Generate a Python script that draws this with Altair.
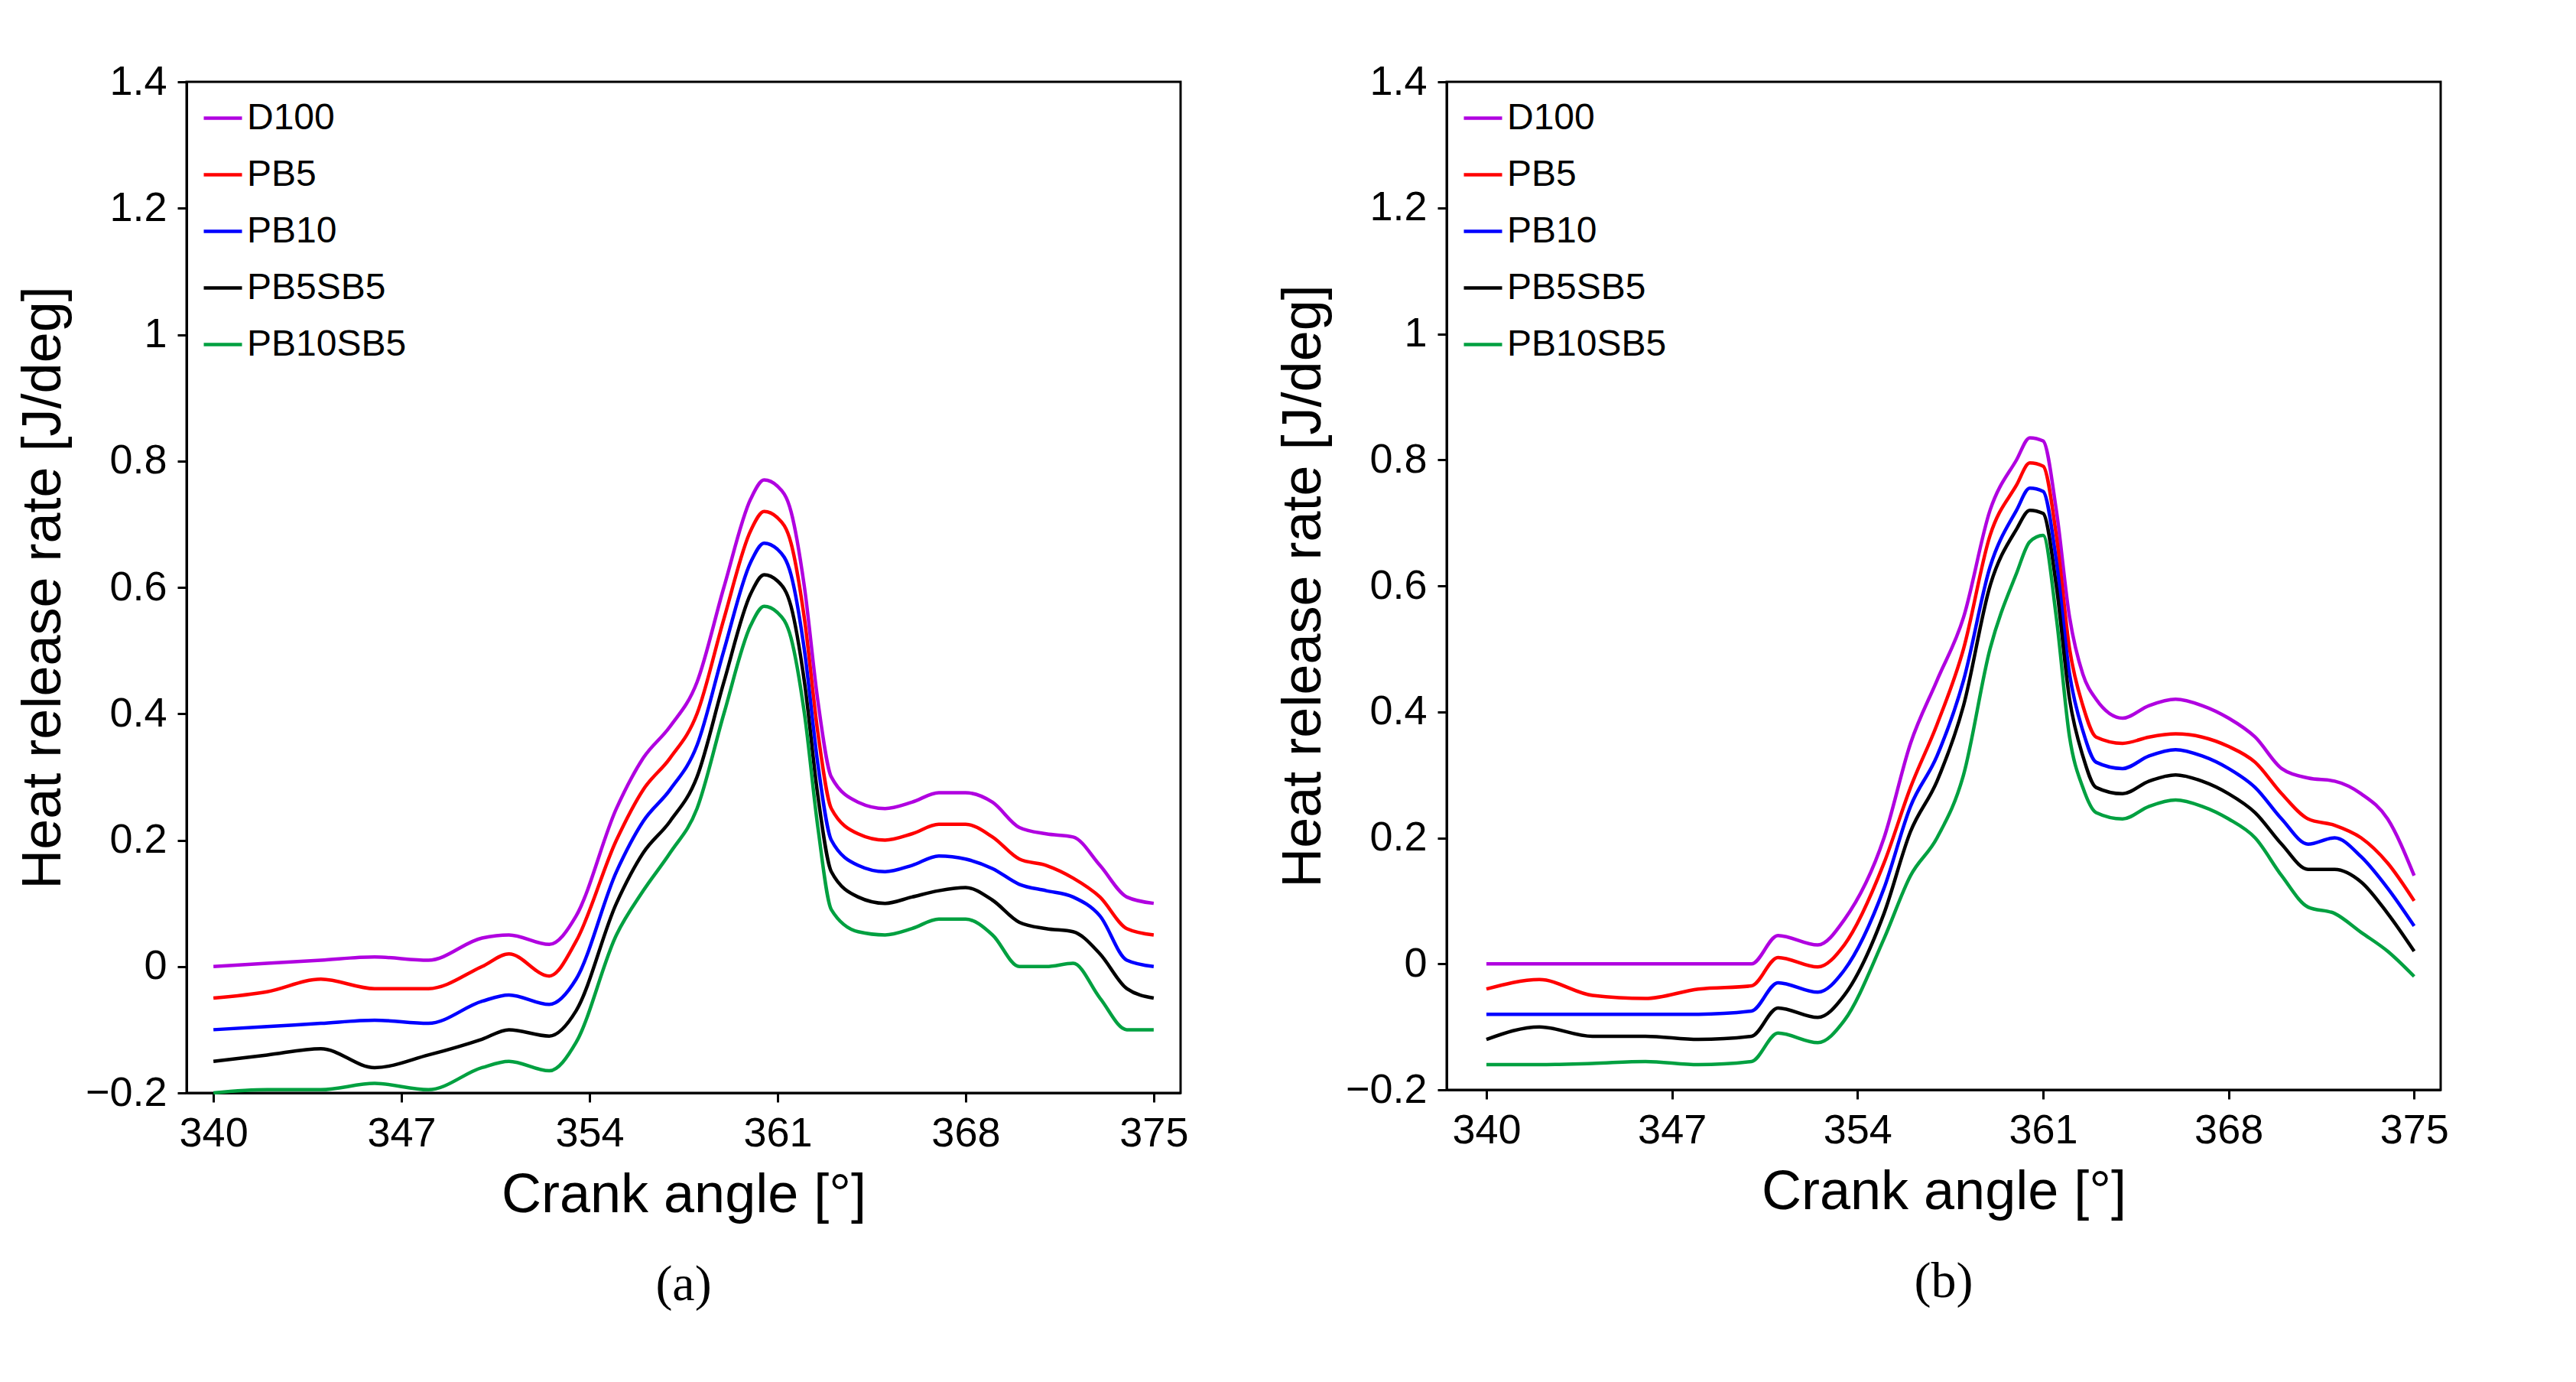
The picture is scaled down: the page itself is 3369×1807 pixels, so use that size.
import pandas as pd
import altair as alt

angle = [340, 342, 344, 346, 348, 350, 351, 352.5, 353.5, 355, 356, 357, 358, 359, 360, 360.5,
         361, 361.5, 362, 362.5, 363, 364, 365, 366, 367, 368, 369, 370, 371, 372, 373, 374, 375]
fuels = ["D100", "PB5", "PB10", "PB5SB5", "PB10SB5"]
colors = ["#b000e0", "#ff0000", "#0000ff", "#000000", "#00a040"]

# panel (a)
a_d100 = [0, 0.005, 0.01, 0.015, 0.01, 0.045, 0.05, 0.035, 0.08, 0.25, 0.33, 0.38, 0.45, 0.6, 0.74, 0.77,
          0.76, 0.72, 0.6, 0.42, 0.3, 0.26, 0.25, 0.26, 0.275, 0.275, 0.26, 0.22, 0.21, 0.205, 0.16, 0.11, 0.1]
a_pb5 = [-0.05, -0.04, -0.02, -0.035, -0.035, 0.0, 0.02, -0.015, 0.04, 0.2, 0.28, 0.33, 0.4, 0.55, 0.69, 0.72,
         0.71, 0.67, 0.55, 0.37, 0.25, 0.21, 0.2, 0.21, 0.225, 0.225, 0.205, 0.17, 0.16, 0.14, 0.11, 0.06, 0.05]
a_pb10 = [-0.1, -0.095, -0.09, -0.085, -0.09, -0.055, -0.045, -0.06, -0.02, 0.15, 0.23, 0.28, 0.35, 0.5, 0.64, 0.67,
          0.66, 0.62, 0.5, 0.32, 0.2, 0.16, 0.15, 0.16, 0.175, 0.17, 0.155, 0.13, 0.12, 0.11, 0.08, 0.01, 0.0]
a_pb5sb5 = [-0.15, -0.14, -0.13, -0.16, -0.14, -0.115, -0.1, -0.11, -0.07, 0.1, 0.18, 0.23, 0.3, 0.45, 0.59, 0.62,
            0.61, 0.57, 0.45, 0.27, 0.15, 0.11, 0.1, 0.11, 0.12, 0.125, 0.105, 0.07, 0.06, 0.055, 0.02, -0.035, -0.05]
a_pb10sb5 = [-0.2, -0.195, -0.195, -0.185, -0.195, -0.16, -0.15, -0.165, -0.12, 0.05, 0.12, 0.18, 0.25, 0.4, 0.54, 0.57,
             0.56, 0.52, 0.4, 0.22, 0.09, 0.055, 0.05, 0.06, 0.075, 0.075, 0.05, 0.0, 0.0, 0.005, -0.05, -0.1, -0.1]

# panel (b)
b_d100 = [0, 0, 0, 0, 0, 0.0, 0.045, 0.03, 0.07, 0.2, 0.35, 0.45, 0.55, 0.72, 0.8, 0.835,
          0.83, 0.72, 0.55, 0.46, 0.42, 0.39, 0.41, 0.42, 0.41, 0.39, 0.36, 0.31, 0.295, 0.29, 0.27, 0.23, 0.14]
b_pb5 = [-0.04, -0.025, -0.05, -0.055, -0.04, -0.035, 0.01, -0.005, 0.03, 0.16, 0.28, 0.38, 0.5, 0.68, 0.76, 0.795,
         0.79, 0.68, 0.5, 0.41, 0.36, 0.35, 0.36, 0.365, 0.36, 0.345, 0.32, 0.27, 0.23, 0.22, 0.2, 0.16, 0.1]
b_pb10 = [-0.08, -0.08, -0.08, -0.08, -0.08, -0.075, -0.03, -0.045, -0.01, 0.12, 0.25, 0.33, 0.45, 0.63, 0.72, 0.755,
          0.75, 0.64, 0.46, 0.37, 0.32, 0.31, 0.33, 0.34, 0.33, 0.31, 0.28, 0.23, 0.19, 0.2, 0.17, 0.12, 0.06]
b_pb5sb5 = [-0.12, -0.1, -0.115, -0.115, -0.12, -0.115, -0.07, -0.085, -0.05, 0.08, 0.21, 0.29, 0.41, 0.6, 0.69, 0.72,
            0.715, 0.6, 0.42, 0.33, 0.28, 0.27, 0.29, 0.3, 0.29, 0.27, 0.24, 0.19, 0.15, 0.15, 0.13, 0.08, 0.02]
b_pb10sb5 = [-0.16, -0.16, -0.158, -0.155, -0.16, -0.155, -0.11, -0.125, -0.09, 0.04, 0.14, 0.2, 0.3, 0.5, 0.62, 0.67,
             0.68, 0.55, 0.36, 0.28, 0.24, 0.23, 0.25, 0.26, 0.25, 0.23, 0.2, 0.14, 0.09, 0.08, 0.05, 0.02, -0.02]

FONT = "Arial, Liberation Sans"


def to_frame(series):
    rows = []
    for name, vals in zip(fuels, series):
        for x, y in zip(angle, vals):
            rows.append({"angle": x, "hrr": y, "fuel": name})
    return pd.DataFrame(rows)


def make_panel(series, caption, xdom, h):
    df = to_frame(series)
    return alt.Chart(df, title=alt.TitleParams(
        caption, orient="bottom", font="Liberation Serif", fontSize=66, fontWeight="normal",
        offset=50, color="black")).mark_line(strokeWidth=4.5, interpolate="monotone").encode(
        x=alt.X("angle:Q", title="Crank angle [°]",
                scale=alt.Scale(domain=xdom, nice=False, zero=False),
                axis=alt.Axis(values=[340, 347, 354, 361, 368, 375], grid=False)),
        y=alt.Y("hrr:Q", title="Heat release rate [J/deg]",
                scale=alt.Scale(domain=[-0.2, 1.4], nice=False),
                axis=alt.Axis(values=[-0.2, 0, 0.2, 0.4, 0.6, 0.8, 1, 1.2, 1.4], format="~g", grid=False)),
        color=alt.Color("fuel:N", sort=fuels, scale=alt.Scale(domain=fuels, range=colors),
                        legend=alt.Legend(title=None, orient="top-left", symbolType="stroke",
                                          symbolStrokeWidth=4.5, symbolSize=2500, labelFontSize=48,
                                          labelFont=FONT, labelColor="black", labelLimit=0,
                                          rowPadding=22, offset=20)),
    ).properties(width=1300, height=h)


pa = make_panel([a_d100, a_pb5, a_pb10, a_pb5sb5, a_pb10sb5], "(a)", [339, 376], 1322)
pb = make_panel([b_d100, b_pb5, b_pb10, b_pb5sb5, b_pb10sb5], "(b)", [338.5, 376], 1318)

chart = alt.hconcat(pa, pb, spacing=110).resolve_scale(color="independent").configure(
    padding={"left": 10, "top": 70, "right": 5, "bottom": 5}
).configure_view(
    stroke="black", strokeWidth=3
).configure_axis(
    labelFont=FONT, titleFont=FONT, labelFontSize=54, titleFontSize=72, titleFontWeight="normal",
    labelColor="black", titleColor="black", domainColor="black", tickColor="black",
    domainWidth=3, tickWidth=3, tickSize=12, labelPadding=14, titlePadding=18
)

chart.save("out.html", embed_options={"renderer": "svg", "actions": False})
